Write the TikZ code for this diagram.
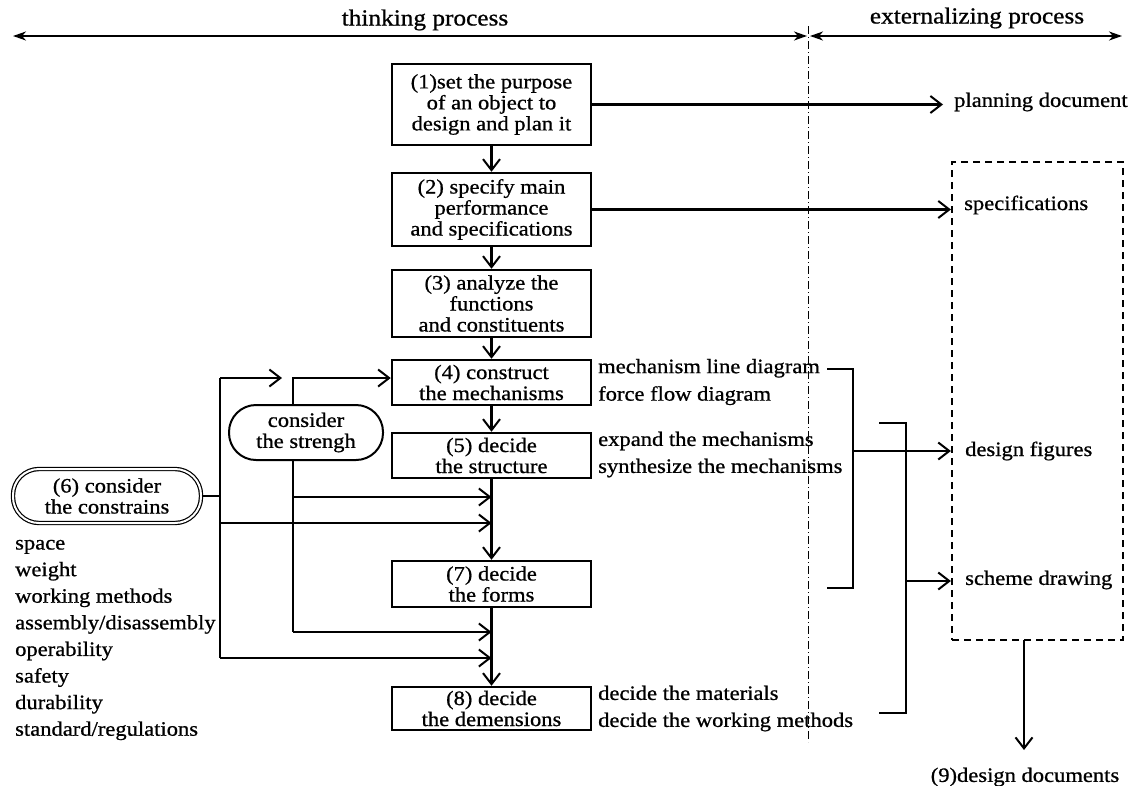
\documentclass[tikz,border=0pt]{standalone}
\usepackage{fontspec}
\setmainfont{Liberation Serif}[FakeStretch=1.1,FakeBold=0.8]
\usetikzlibrary{arrows.meta,calc}
\begin{document}
\begin{tikzpicture}[x=1pt,y=-1pt,
  every node/.style={inner sep=0pt},
  body/.style={font=\fontsize{20.5}{21}\selectfont},
  stepbox/.style={body, draw, line width=2.5pt, minimum width=199pt, align=center},
  pill/.style={body, draw, align=center},
  note/.style={anchor=west, align=left, font=\fontsize{20.5}{27.5}\selectfont},
  link/.style={line width=2.2pt},
  flow/.style={line width=2.2pt, -{Straight Barb[length=11pt,width=17pt,line width=2pt]}},
  span/.style={line width=1.8pt, {Stealth[length=13pt,width=9pt,inset=4pt]}-{Stealth[length=13pt,width=9pt,inset=4pt]}},
  divider/.style={line width=0.9pt, dash pattern=on 8pt off 3pt on 1pt off 3pt},
  outbox/.style={draw, line width=2.2pt, dash pattern=on 7pt off 5pt}
]
\useasboundingbox (0,0) rectangle (1131,785);

% header: the two phases
\coordinate (hl) at (13,36);
\coordinate (hm) at (807,36);
\coordinate (hn) at (810,36);
\coordinate (hr) at (1122,36);
\draw[span] (hl) -- (hm);
\draw[span] (hn) -- (hr);
\node[font=\fontsize{23}{24}\selectfont] (think) at (425,20) {thinking process};
\node[font=\fontsize{23}{24}\selectfont] (ext) at (977,18) {externalizing process};

% phase divider
\coordinate (dtop) at (808,26);
\coordinate (dbot) at (808,742);
\draw[divider] (dtop) -- (dbot);

% main design steps
\node[stepbox, minimum height=81pt] (b1) at (491.5,104.5) {(1)set the purpose\\ of an object to\\design and plan it};
\node[stepbox, minimum height=73pt] (b2) at (491.5,209.5) {(2) specify main\\performance\\and specifications};
\node[stepbox, minimum height=67pt] (b3) at (491.5,303.5) {(3) analyze the\\functions\\and constituents};
\node[stepbox, minimum height=45pt] (b4) at (491.5,382.5) {(4) construct\\the mechanisms};
\node[stepbox, minimum height=45pt] (b5) at (491.5,455.5) {(5) decide\\the structure};
\node[stepbox, minimum height=46pt] (b7) at (491.5,584) {(7) decide\\the forms};
\node[stepbox, minimum height=43pt] (b8) at (491.5,708.5) {(8) decide\\the demensions};

\draw[flow] (b1) -- (b2);
\draw[flow] (b2) -- (b3);
\draw[flow] (b3) -- (b4);
\draw[flow] (b4) -- (b5);
\draw[flow] (b5) -- (b7);
\draw[flow] (b7) -- (b8);

% constraints and strength
\node[pill, double, double distance=2pt, line width=1.2pt, rounded corners=26pt,
      minimum width=188pt, minimum height=54pt] (con) at (107,496) {(6) consider\\the constrains};
\node[pill, line width=2pt, rounded corners=27pt,
      minimum width=154pt, minimum height=55pt] (str) at (306,432.5) {consider\\the strengh};

\node[anchor=west, align=left, font=\fontsize{20.5}{26.6}\selectfont] (list) at (15,640)
  {space\\weight\\working methods\\assembly/disassembly\\operability\\safety\\durability\\standard/regulations};

\coordinate (cj) at (220,496);
\coordinate (ct) at (220,378);
\coordinate (cb) at (220,658);
\coordinate (cfree) at (282,378);
\coordinate (cm) at (220,523);
\draw[link] (con.east) -- (cj);
\draw[link] (ct) -- (cb);
\draw[flow] (ct) -- (cfree);
\draw[flow] (cm) -- (cm -| b5.south);
\draw[flow] (cb) -- (cb -| b5.south);

\coordinate (sx) at (293,378);
\coordinate (sb) at (293,632);
\coordinate (sm) at (293,497);
\draw[flow] (str.north -| sx) -- (sx) -- (sx -| b4.west);
\draw[link] (str.south -| sx) -- (sb);
\draw[flow] (sb) -- (sb -| b5.south);
\draw[flow] (sm) -- (sm -| b5.south);

% drawings produced along the way
\node[note] (t4) at (598,382) {mechanism line diagram\\force flow diagram};
\node[note, font=\fontsize{20.5}{27}\selectfont] (t5) at (598,454.5) {expand the mechanisms\\synthesize the mechanisms};
\node[note, font=\fontsize{20.5}{27}\selectfont] (t8) at (598,708.5) {decide the materials\\decide the working methods};

% documents
\node[outbox, minimum width=171pt, minimum height=478pt] (out) at (1037.5,401) {};
\node[body, anchor=west] (plan) at (954,102) {planning document};
\node[body, anchor=west] (spec) at (964,205) {specifications};
\node[body, anchor=west] (fig) at (965,451) {design figures};
\node[body, anchor=west] (sch) at (965,580) {scheme drawing};
\node[body] (doc) at (1025,777) {(9)design documents};

\draw[flow, shorten >=11pt] (b1.east) -- (b1.east -| plan.west);
\draw[flow] (b2.east) -- (b2.east -| out.west);

% brackets collecting the drawings
\coordinate (p1) at (827,369);
\coordinate (p2) at (853,369);
\coordinate (p3) at (853,588);
\coordinate (p4) at (827,588);
\coordinate (pm) at (853,451);
\draw[link] (p1) -- (p2) -- (p3) -- (p4);
\draw[flow] (pm) -- (pm -| out.west);

\coordinate (q1) at (879,423);
\coordinate (q2) at (906,423);
\coordinate (q3) at (906,713);
\coordinate (q4) at (879,713);
\coordinate (qm) at (906,581);
\draw[link] (q1) -- (q2) -- (q3) -- (q4);
\draw[flow] (qm) -- (qm -| out.west);

\coordinate (ds) at (1024,640);
\coordinate (de) at (1024,750);
\draw[flow] (ds) -- (de);
\end{tikzpicture}
\end{document}
